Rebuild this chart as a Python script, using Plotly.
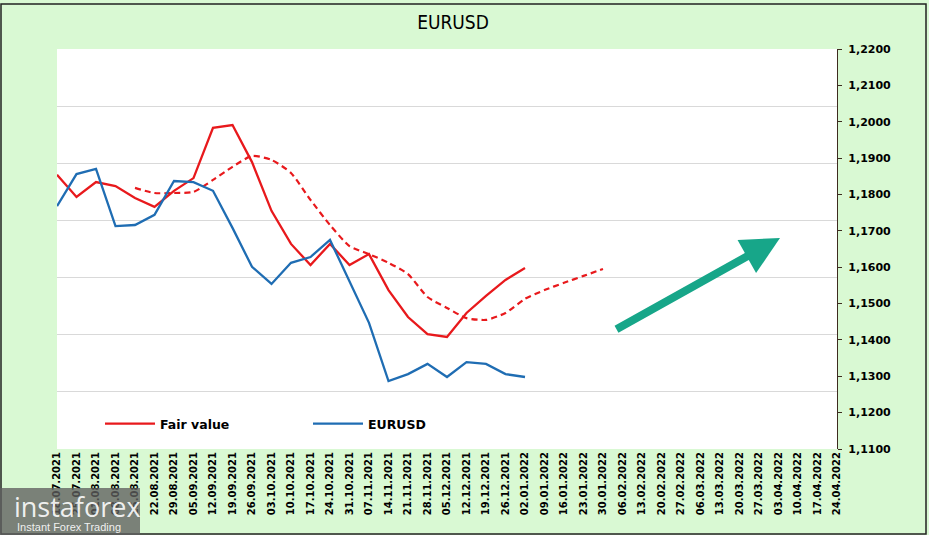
import plotly.graph_objects as go

dates = ["18.07.2021","25.07.2021","01.08.2021","08.08.2021","15.08.2021","22.08.2021","29.08.2021",
         "05.09.2021","12.09.2021","19.09.2021","26.09.2021","03.10.2021","10.10.2021","17.10.2021",
         "24.10.2021","31.10.2021","07.11.2021","14.11.2021","21.11.2021","28.11.2021","05.12.2021",
         "12.12.2021","19.12.2021","26.12.2021","02.01.2022","09.01.2022","16.01.2022","23.01.2022",
         "30.01.2022","06.02.2022","13.02.2022","20.02.2022","27.02.2022","06.03.2022","13.03.2022",
         "20.03.2022","27.03.2022","03.04.2022","10.04.2022","17.04.2022","24.04.2022"]

fair_value = [1.1854, 1.1793, 1.1834, 1.1823, 1.1790, 1.1766, 1.1810, 1.1845, 1.1983, 1.1991,
              1.1889, 1.1755, 1.1664, 1.1606, 1.1664, 1.1606, 1.1636, 1.1537, 1.1463, 1.1416,
              1.1408, 1.1474, 1.1521, 1.1565, 1.1598]

eurusd = [1.1768, 1.1856, 1.1870, 1.1713, 1.1716, 1.1744, 1.1837, 1.1834, 1.1810, 1.1708,
          1.1601, 1.1554, 1.1612, 1.1628, 1.1675, 1.1560, 1.1447, 1.1287, 1.1306, 1.1334,
          1.1298, 1.1339, 1.1334, 1.1306, 1.1298]

fair_trend = [None, None, None, None, 1.1818, 1.1804, 1.1804, 1.1807, 1.1840, 1.1876,
              1.1906, 1.1895, 1.1859, 1.1785, 1.1716, 1.1658, 1.1636, 1.1612, 1.1581, 1.1518,
              1.1488, 1.1460, 1.1455, 1.1474, 1.1513, 1.1537, 1.1557, 1.1576, 1.1595]

y_min, y_max = 1.11, 1.22
y_ticks = [round(y_min + 0.01 * k, 2) for k in range(12)]
# gridlines come from a second (hidden) Excel axis with 7 divisions
grid_vals = [y_min + (y_max - y_min) * k / 7 for k in range(8)]

RED = "#e8191c"
BLUE = "#1f6db3"
GREEN_BG = "#d9f9d3"
FONT = "DejaVu Sans"

W, H = 929, 535
L, R, T, B = 57, 92, 49, 86
pw, ph = W - L - R, H - T - B

def px(x):
    return (x - L) / pw

def py(y):
    return (H - B - y) / ph

fig = go.Figure()

fig.add_trace(go.Scatter(x=dates[:len(fair_trend)], y=fair_trend, mode="lines",
                         line=dict(color=RED, width=2.2, dash="6px,4px", shape="spline", smoothing=0.6),
                         showlegend=False, connectgaps=False))
fig.add_trace(go.Scatter(x=dates[:len(fair_value)], y=fair_value, mode="lines",
                         name="Fair value", line=dict(color=RED, width=2.3)))
fig.add_trace(go.Scatter(x=dates[:len(eurusd)], y=eurusd, mode="lines",
                         name="EURUSD", line=dict(color=BLUE, width=2.3)))

fig.update_layout(
    width=W, height=H,
    margin=dict(l=L, r=R, t=T, b=B),
    paper_bgcolor=GREEN_BG,
    plot_bgcolor="white",
    separators=", ",
    font=dict(family=FONT, color="black"),
    title=dict(text="EURUSD", x=453 / W, xanchor="center", y=1 - 22 / H, yanchor="middle",
               font=dict(family="Liberation Sans Narrow, DejaVu Sans Condensed, sans-serif", size=19, color="black")),
    xaxis=dict(type="category", categoryorder="array", categoryarray=dates, range=[0, len(dates) - 1],
               tickmode="array", tickvals=dates, ticktext=dates, tickangle=-90,
               tickfont=dict(family=FONT, size=10, weight="bold", color="black"),
               showgrid=False, zeroline=False, showline=False, ticks=""),
    yaxis=dict(side="right", range=[y_min, y_max], tickmode="array", tickvals=y_ticks,
               tickformat=".4f", showgrid=False, zeroline=False, showline=True, linecolor="#3d2b1f",
               linewidth=1.2, ticks="outside", ticklen=4, tickcolor="#3d2b1f", ticklabelstandoff=4,
               tickfont=dict(family=FONT, size=11, weight="bold", color="black"),
               minor=dict(tickmode="array", tickvals=grid_vals, showgrid=True, gridcolor="#d9d9d9",
                          gridwidth=1, ticks="")),
    legend=dict(orientation="h", x=px(100), xanchor="left", y=py(424), yanchor="middle",
                bgcolor="rgba(0,0,0,0)", font=dict(family=FONT, size=12.5, weight="bold", color="black"),
                entrywidth=143, entrywidthmode="pixels", itemwidth=50),
    showlegend=True,
)

# chart-area border
fig.add_shape(type="rect", xref="paper", yref="paper", layer="above",
              x0=px(1), x1=px(926), y0=py(534), y1=py(4),
              fillcolor="rgba(0,0,0,0)", line=dict(color="#222222", width=1.5))

# green arrow
fig.add_annotation(xref="paper", yref="paper", x=px(780), y=py(238), ax=615 - 780, ay=330 - 238,
                   axref="pixel", ayref="pixel", showarrow=True, arrowhead=2, arrowsize=0.95,
                   arrowwidth=8, arrowcolor="#17a689", text="", standoff=0, startstandoff=0)

# watermark logo
fig.add_shape(type="rect", xref="paper", yref="paper", layer="above",
              x0=px(0), x1=px(140), y0=py(535), y1=py(488),
              fillcolor="rgba(95,95,95,0.78)", line=dict(width=0))
fig.add_annotation(xref="paper", yref="paper", x=px(12), y=py(535), xanchor="left", yanchor="bottom",
                   align="left", showarrow=False,
                   text="<span style='font-size:27px;font-family:Open Sans'>instaforex</span><br>"
                        "<span style='font-size:11px;font-family:Liberation Sans'> Instant Forex Trading</span>",
                   font=dict(family="Open Sans, sans-serif", size=11, color="rgba(255,255,255,0.9)"))

fig.write_html("out.html")
